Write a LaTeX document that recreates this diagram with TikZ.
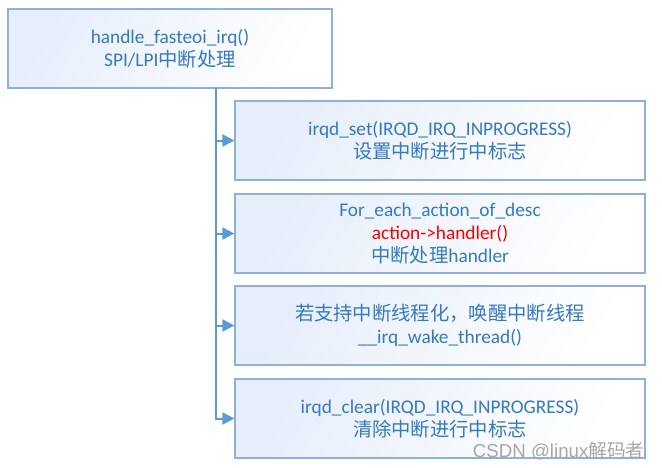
\documentclass[tikz,border=0pt]{standalone}
\usepackage{fontspec}
\setmainfont{Carlito}
\newfontfamily\cjk{Noto Sans CJK SC}
\newfontfamily\markfont{Liberation Sans}
\usetikzlibrary{arrows.meta}
\definecolor{boxline}{RGB}{143,176,218}
\definecolor{boxtext}{RGB}{52,122,192}
\definecolor{busline}{RGB}{91,155,213}
\definecolor{boxfill}{RGB}{230,238,250}
\begin{document}
\begin{tikzpicture}[
    x=0.75pt, y=-0.75pt,
    stepbox/.style={rectangle, draw=boxline, line width=0.9pt, left color=boxfill, right color=white, shading angle=60, text=boxtext, align=center, minimum height=59.25pt, font=\fontsize{14.5}{17.5}\selectfont},
    topbox/.style={stepbox, minimum width=243pt},
    subbox/.style={stepbox, minimum width=307.5pt},
    bus/.style={draw=busline, line width=1.5pt, -{Triangle[length=9pt, width=9pt]}}
]
\useasboundingbox (0,0) rectangle (662,468);

% Entry
\node[topbox] (irq) at (170,48.5) {handle\_fasteoi\_irq()\\SPI/LPI{\cjk 中断处理}};

% Steps
\node[subbox] (setflag) at (440,140.5) {irqd\_set(IRQD\_IRQ\_INPROGRESS)\\{\cjk 设置中断进行中标志}};
\node[subbox] (handler) at (440,233.5) {For\_each\_action\_of\_desc\\\textcolor{red}{action->handler()}\\{\cjk 中断处理}handler};
\node[subbox] (wake) at (440,325.5) {{\cjk 若支持中断线程化，唤醒中断线程}\\\_\_irq\_wake\_thread()};
\node[subbox] (clearflag) at (440,418.5) {irqd\_clear(IRQD\_IRQ\_INPROGRESS)\\{\cjk 清除中断进行中标志}};

% Arrows
\coordinate (trunk) at (216,88);
\draw[bus] (trunk) |- (setflag.west);
\draw[bus] (trunk) |- (handler.west);
\draw[bus] (trunk) |- (wake.west);
\draw[bus] (trunk) |- (clearflag.west);

% Watermark
\node[text=black!35, anchor=south east, inner sep=1pt, font=\markfont\fontsize{14}{16}\selectfont] (mark) at (646,462) {CSDN @linux{\cjk 解码者}};

\end{tikzpicture}
\end{document}
